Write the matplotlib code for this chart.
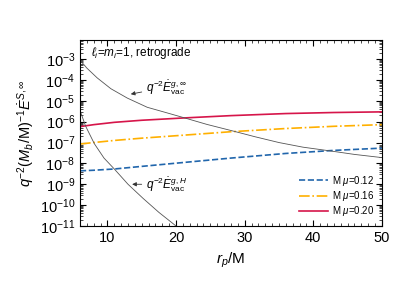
import numpy as np
import matplotlib
matplotlib.use("Agg")
import matplotlib.pyplot as plt
from matplotlib.ticker import LogLocator, MultipleLocator, NullFormatter

plt.rcParams['font.family'] = ['Liberation Sans', 'DejaVu Sans']
plt.rcParams['mathtext.fontset'] = 'custom'
plt.rcParams['mathtext.rm'] = 'Liberation Sans'
plt.rcParams['mathtext.it'] = 'Liberation Sans:italic'
plt.rcParams['mathtext.bf'] = 'Liberation Sans:bold'

# values
r_mu = [6, 8, 11, 15, 21, 28, 36, 43, 50]
E_012 = [4.4e-9, 4.7e-9, 5.4e-9, 7.2e-9, 1.1e-8, 1.8e-8, 3.0e-8, 4.2e-8, 5.4e-8]
E_016 = [8.5e-8, 1.0e-7, 1.26e-7, 1.62e-7, 2.24e-7, 3.3e-7, 4.7e-7, 6.0e-7, 7.2e-7]
E_020 = [5.8e-7, 7.2e-7, 9.3e-7, 1.17e-6, 1.5e-6, 1.95e-6, 2.45e-6, 2.75e-6, 2.95e-6]

r_inf = [6, 7, 8.5, 10.5, 12.9, 15.8, 18.5, 21, 24.5, 28.4, 31.5, 35, 38.5, 42.4, 46, 50]
E_inf = [8.9e-4, 3.7e-4, 1.26e-4, 3.8e-5, 1.35e-5, 4.9e-6, 2.75e-6, 1.6e-6,
         7.4e-7, 3.5e-7, 1.9e-7, 1.0e-7, 6.0e-8, 4.0e-8, 2.7e-8, 1.9e-8]

r_hor = [6, 6.8, 8.1, 9.5, 11, 13, 15.2, 17.5, 20, 22]
E_hor = [3.5e-6, 6.3e-7, 8.7e-8, 1.8e-8, 5.4e-9, 1.0e-9, 2.1e-10, 4.5e-11, 1.0e-11, 3.2e-12]

labels = [r'M $\mu$=0.12', r'M $\mu$=0.16', r'M $\mu$=0.20']
colors = ['#2166ac', '#ffb000', '#d6154a']
styles = ['--', '-.', '-']

fig = plt.figure(figsize=(3.99, 2.83), dpi=100)
ax = fig.add_axes([0.2005, 0.2014, 0.7565, 0.6576])

for ys, lab, c, ls in zip([E_012, E_016, E_020], labels, colors, styles):
    ax.plot(r_mu, ys, ls=ls, color=c, lw=1.2, label=lab)

ax.plot(r_inf, E_inf, color='#555555', lw=0.6)
ax.plot(r_hor, E_hor, color='#555555', lw=0.6)

ax.set_yscale('log')
ax.set_xlim(6, 50)
ax.set_ylim(1e-11, 8.3e-3)
ax.xaxis.set_major_locator(MultipleLocator(10))
ax.xaxis.set_minor_locator(MultipleLocator(1))
ax.yaxis.set_major_locator(LogLocator(base=10, numticks=20))
ax.yaxis.set_minor_locator(LogLocator(base=10, subs=np.arange(2, 10), numticks=20))
ax.yaxis.set_minor_formatter(NullFormatter())
ax.tick_params(which='both', direction='in', top=True, right=True, labelsize=10.5)
ax.tick_params(which='major', length=4, width=0.8)
ax.tick_params(which='minor', length=2, width=0.5)

ax.set_xlabel(r'$r_p$/M', fontsize=11)
ax.set_ylabel(r'$q^{-2}(M_b/\mathrm{M})^{-1}\dot{E}^{S,\infty}$', fontsize=10.5, labelpad=2)

ax.text(0.035, 0.975, r'$\ell_i$=$m_i$=1, retrograde', transform=ax.transAxes,
        fontsize=8.5, va='top', ha='left')

ax.annotate(r'$q^{-2}\dot{E}^{g,\infty}_{\rm vac}$', xy=(13.4, 10**-4.68), xytext=(15.6, 10**-4.35),
            fontsize=8.5, va='center', ha='left',
            arrowprops=dict(arrowstyle='-|>', color='#333333', lw=0.6, mutation_scale=6,
                            shrinkA=1, shrinkB=0))
ax.annotate(r'$q^{-2}\dot{E}^{g,H}_{\rm vac}$', xy=(13.6, 10**-9.0), xytext=(15.6, 10**-9.0),
            fontsize=8.5, va='center', ha='left',
            arrowprops=dict(arrowstyle='-|>', color='#333333', lw=0.6, mutation_scale=6,
                            shrinkA=1, shrinkB=0))

ax.legend(loc='lower right', frameon=False, fontsize=7, handlelength=3.0,
          handletextpad=0.4, borderaxespad=0.4, labelspacing=0.12)

fig.savefig('out.png', dpi=100)
